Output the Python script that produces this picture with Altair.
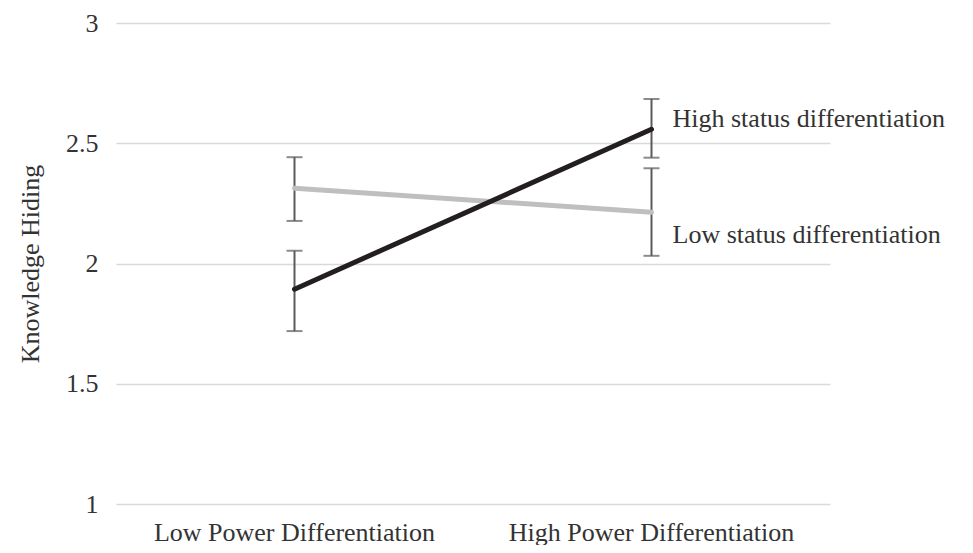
import altair as alt
import pandas as pd

categories = ["Low Power Differentiation", "High Power Differentiation"]
series_names = ["High status differentiation", "Low status differentiation"]
high_status = [1.893, 2.558]
high_status_lo = [1.719, 2.440]
high_status_hi = [2.053, 2.684]
low_status = [2.313, 2.213]
low_status_lo = [2.177, 2.032]
low_status_hi = [2.442, 2.396]
label_y = [2.601, 2.118]
y_ticks = [1, 1.5, 2, 2.5, 3]

rows = []
for i, c in enumerate(categories):
    rows.append(dict(cat=c, series=series_names[0], v=high_status[i], lo=high_status_lo[i], hi=high_status_hi[i]))
    rows.append(dict(cat=c, series=series_names[1], v=low_status[i], lo=low_status_lo[i], hi=low_status_hi[i]))
df = pd.DataFrame(rows)
lab = pd.DataFrame(dict(cat=[categories[1]] * 2, series=series_names, y=label_y))

FONT = "Liberation Serif"
FS = 26
xscale = alt.Scale(domain=categories, paddingInner=0, paddingOuter=0)
yscale = alt.Scale(domain=[1, 3])
xenc = alt.X("cat:N", sort=categories, title=None, scale=xscale)
yaxis = alt.Axis(values=y_ticks, format="~g")

def Y(field):
    return alt.Y(field, scale=yscale, title="Knowledge Hiding", axis=yaxis)

base = alt.Chart(df)
rules = base.mark_rule(color="#5a5a5a", strokeWidth=2).encode(
    x=xenc, y=Y("lo:Q"), y2="hi:Q")
cap_lo = base.mark_tick(color="#5a5a5a", thickness=2, size=16, orient="horizontal").encode(
    x=xenc, y=Y("lo:Q"))
cap_hi = base.mark_tick(color="#5a5a5a", thickness=2, size=16, orient="horizontal").encode(
    x=xenc, y=Y("hi:Q"))
gray = alt.Chart(df[df.series == series_names[1]]).mark_line(
    color="#bfbfbf", strokeWidth=5, strokeCap="round").encode(
    x=xenc, y=Y("v:Q"))
black = alt.Chart(df[df.series == series_names[0]]).mark_line(
    color="#231f20", strokeWidth=5, strokeCap="round").encode(
    x=xenc, y=Y("v:Q"))
texts = alt.Chart(lab).mark_text(align="left", baseline="middle", dx=21, font=FONT,
                                 fontSize=FS, color="#333333").encode(
    x=xenc, y=Y("y:Q"), text="series:N")

chart = alt.layer(rules, cap_lo, cap_hi, gray, black, texts).properties(
    width=714, height=481,
    autosize=alt.AutoSizeParams(type="none"),
    padding={"left": 108, "top": 15, "right": 135, "bottom": 41},
).configure_view(stroke=None).configure_axis(
    labelFont=FONT, labelFontSize=FS, labelColor="#333333", labelLimit=0,
    titleFont=FONT, titleFontSize=FS, titleFontWeight="normal", titleColor="#333333",
    domain=False, ticks=False,
).configure_axisX(
    labelAngle=0, labelPadding=15, grid=False,
).configure_axisY(
    labelPadding=18, titlePadding=22,
    gridColor="#d9d9d9", gridWidth=1.5,
)

chart.save("out.html", embed_options={"renderer": "svg", "actions": False})
